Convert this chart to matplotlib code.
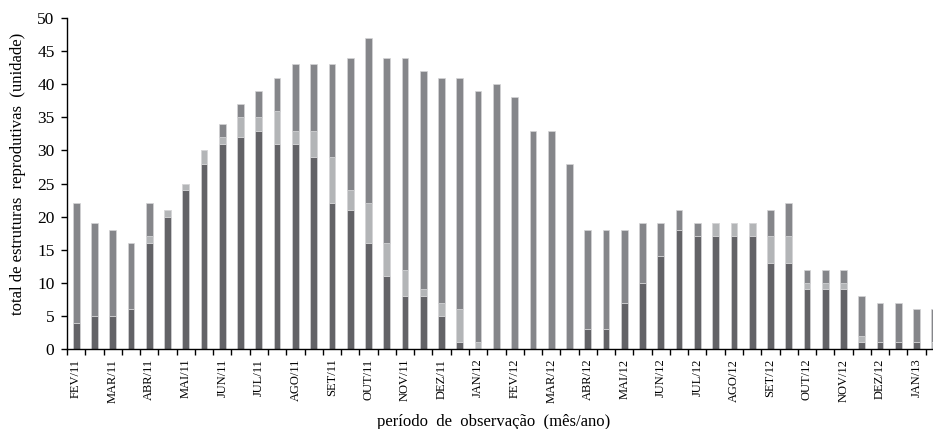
import matplotlib
matplotlib.use("Agg")
import matplotlib.pyplot as plt
import numpy as np

# ---- data ----
meses = ["FEV/11", "MAR/11", "ABR/11", "MAI/11", "JUN/11", "JUL/11", "AGO/11",
         "SET/11", "OUT/11", "NOV/11", "DEZ/11", "JAN/12", "FEV/12", "MAR/12",
         "ABR/12", "MAI/12", "JUN/12", "JUL/12", "AGO/12", "SET/12", "OUT/12",
         "NOV/12", "DEZ/12", "JAN/13"]

serie_escura = [4, 5, 5, 6, 16, 20, 24, 28, 31, 32, 33, 31, 31, 29, 22, 21,
                16, 11, 8, 8, 5, 1, 0, 0, 0, 0, 0, 0, 3, 3, 7, 10,
                14, 18, 17, 17, 17, 17, 13, 13, 9, 9, 9, 1, 1, 1, 1, 0]
serie_clara = [0, 0, 0, 0, 1, 1, 1, 2, 1, 3, 2, 5, 2, 4, 7, 3,
               6, 5, 4, 1, 2, 5, 1, 0, 0, 0, 0, 0, 0, 0, 0, 0,
               0, 0, 0, 2, 2, 2, 4, 4, 1, 1, 1, 1, 0, 0, 0, 1]
serie_media = [18, 14, 13, 10, 5, 0, 0, 0, 2, 2, 4, 5, 10, 10, 14, 20,
               25, 28, 32, 33, 34, 35, 38, 40, 38, 33, 33, 28, 15, 15, 11, 9,
               5, 3, 2, 0, 0, 0, 4, 5, 2, 2, 2, 6, 6, 6, 5, 5]

# ---- styling ----
plt.rcParams['font.family'] = ['Liberation Serif', 'DejaVu Serif']

fig = plt.figure(figsize=(9.33, 4.29), dpi=100)
W, H = 933, 429
left_px, right_px, top_px, bot_px = 67, 944, 18, 349
ax = fig.add_axes([left_px / W, 1 - bot_px / H, (right_px - left_px) / W, (bot_px - top_px) / H])

x = np.arange(len(serie_escura))
d = np.array(serie_escura)
l = np.array(serie_clara)
m = np.array(serie_media)
w = 0.37
ec = '#d4d4d6'
lw = 0.5
ax.bar(x, d, width=w, color='#636367', edgecolor=ec, linewidth=lw)
ax.bar(x, l, width=w, bottom=d, color='#b3b5b7', edgecolor=ec, linewidth=lw)
ax.bar(x, m, width=w, bottom=d + l, color='#85868a', edgecolor=ec, linewidth=lw)

ax.set_xlim(-0.5, len(x) - 0.5)
ax.set_ylim(0, 50)
ax.set_yticks(np.arange(0, 51, 5))
ax.tick_params(axis='y', direction='out', length=4, width=1, labelsize=12.5, pad=5)

ax.set_xticks(x[::2])
ax.set_xticklabels(meses, rotation=90, fontsize=9)
ax.set_xticks(np.arange(-0.5, len(x) + 0.5, 1), minor=True)
ax.tick_params(axis='x', which='major', length=0, pad=7)
ax.tick_params(axis='x', which='minor', direction='out', length=4, width=1)

for s in ['top', 'right']:
    ax.spines[s].set_visible(False)
for s in ['left', 'bottom']:
    ax.spines[s].set_linewidth(1)
    ax.spines[s].set_color('black')

ax.set_ylabel("total de estruturas  reprodutivas  (unidade)", fontsize=12)
ax.yaxis.set_label_coords(-0.047, 0.53)
ax.set_xlabel("período  de  observação  (mês/ano)", fontsize=12)
ax.xaxis.set_label_coords((494 - left_px) / (right_px - left_px), -0.195)

fig.savefig("out.png", dpi=100)
